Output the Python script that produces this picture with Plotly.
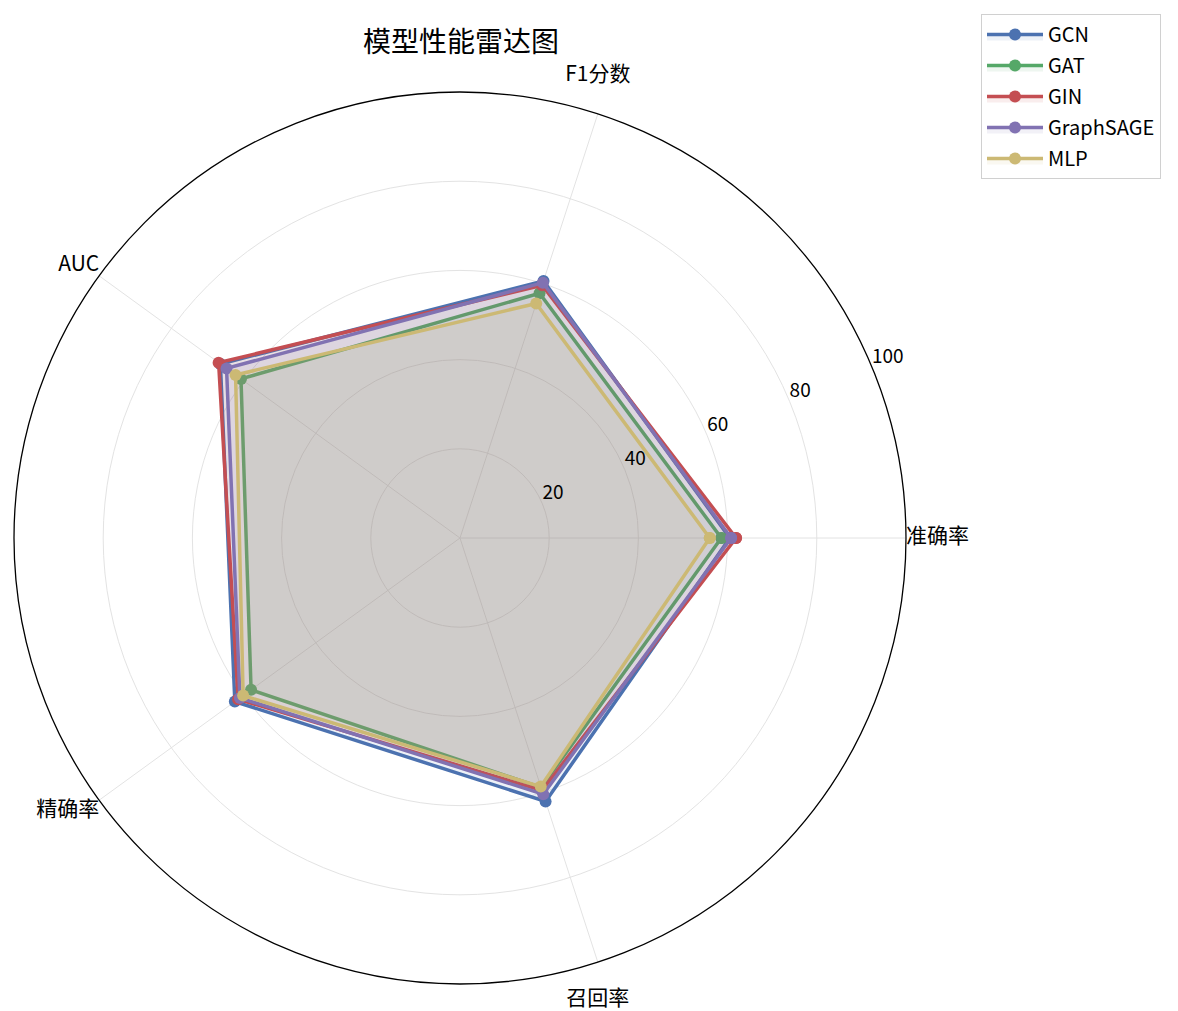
import plotly.graph_objects as go

categories = ["准确率", "F1分数", "AUC", "精确率", "召回率"]
models = ["GCN", "GAT", "GIN", "GraphSAGE", "MLP"]
colors = ["#4C72B0", "#55A868", "#C44E52", "#8172B2", "#CCB974"]

gcn = [60.5, 60.6, 66.4, 62.4, 62.1]
gat = [58.6, 57.7, 60.7, 57.9, 58.8]
gin = [61.9, 59.6, 66.9, 61.5, 59.5]
graphsage = [60.8, 60.2, 64.7, 61.0, 60.4]
mlp = [56.0, 55.3, 62.2, 60.1, 58.6]

values = [gcn, gat, gin, graphsage, mlp]
radial_ticks = [20, 40, 60, 80, 100]

FONT = "Noto Sans CJK SC"

# one spoke per category, evenly spaced, counter-clockwise from 0 deg
angles = [i * 360 / len(categories) for i in range(len(categories))]
label_pos = ["middle right", "top center", "top left", "bottom left", "bottom center"]
# blank line keeps the top/bottom labels clear of the frame
label_text = [categories[0], categories[1] + "<br>&nbsp;", categories[2],
              categories[3], "&nbsp;<br>" + categories[4]]


def rgba(hex_color, alpha):
    h = hex_color.lstrip("#")
    r, g, b = int(h[0:2], 16), int(h[2:4], 16), int(h[4:6], 16)
    return f"rgba({r},{g},{b},{alpha})"


fig = go.Figure()
for name, vals, col in zip(models, values, colors):
    # close the polygon
    fig.add_trace(go.Scatterpolar(
        r=vals + vals[:1],
        theta=angles + angles[:1],
        name=name,
        legendgroup=name,
        mode="lines+markers",
        line=dict(color=col, width=3.5),
        marker=dict(color=col, size=12),
        fill="toself",
        fillcolor=rgba(col, 0.1),
    ))

# radial tick labels like matplotlib: horizontal, at 22.5 deg
fig.add_trace(go.Scatterpolar(
    r=radial_ticks,
    theta=[22.5] * len(radial_ticks),
    text=[str(v) for v in radial_ticks],
    mode="text",
    textposition="top right",
    textfont=dict(family=FONT, size=19, color="black"),
    showlegend=False,
    hoverinfo="skip",
    cliponaxis=False,
))

# category labels sitting on the outer frame
fig.add_trace(go.Scatterpolar(
    r=[radial_ticks[-1]] * len(categories),
    theta=angles,
    text=label_text,
    mode="text",
    textposition=label_pos,
    textfont=dict(family=FONT, size=21, color="black"),
    showlegend=False,
    hoverinfo="skip",
    cliponaxis=False,
))

fig.update_layout(
    width=1178,
    height=1011,
    margin=dict(l=0, r=0, t=0, b=0),
    paper_bgcolor="white",
    font=dict(family=FONT, size=19, color="black"),
    title=dict(text="模型性能雷达图", x=453 / 1178, xanchor="center",
               y=1 - 34 / 1011, yanchor="middle",
               font=dict(family=FONT, size=28, color="black")),
    polar=dict(
        domain=dict(x=[0.00509, 0.7623], y=[0.0346, 0.9169]),
        bgcolor="white",
        radialaxis=dict(
            range=[0, 100],
            tickvals=radial_ticks,
            angle=22.5,
            showticklabels=False,
            showline=False,
            ticks="",
            gridcolor="#e3e3e3",
            gridwidth=1,
        ),
        angularaxis=dict(
            thetaunit="degrees",
            rotation=0,
            direction="counterclockwise",
            tickvals=angles,
            showticklabels=False,
            showline=True,
            linecolor="black",
            linewidth=1.3,
            gridcolor="#e3e3e3",
            ticks="",
        ),
    ),
    legend=dict(
        x=973 / 1178, y=1 - 6 / 1011, xanchor="left", yanchor="top",
        bordercolor="#d0d0d0", borderwidth=1,
        font=dict(family=FONT, size=20, color="black"),
        tracegroupgap=2,
        itemwidth=56,
    ),
)

fig.write_html("out.html")
